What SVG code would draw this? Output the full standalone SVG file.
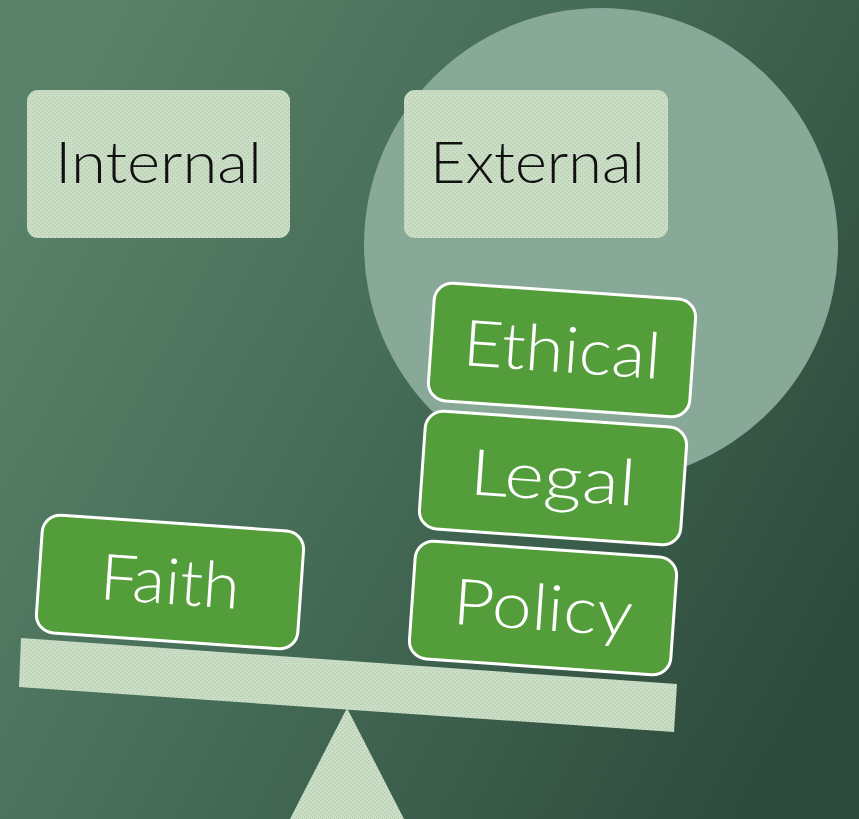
<svg xmlns="http://www.w3.org/2000/svg" width="859" height="819" viewBox="0 0 859 819">
<defs>
<linearGradient id="bg" x1="0" y1="0.25" x2="1" y2="0.75">
<stop offset="0" stop-color="#5a8269"/>
<stop offset="0.45" stop-color="#456c57"/>
<stop offset="1" stop-color="#2e4a3c"/>
</linearGradient>
<pattern id="dots" width="4" height="4" patternUnits="userSpaceOnUse">
<rect width="4" height="4" fill="#cadec6"/>
<rect x="0" y="0" width="1" height="1" fill="#abc4a8"/>
<rect x="2" y="2" width="1" height="1" fill="#abc4a8"/>
</pattern>
<style>
.light{fill:url(#dots);}
.green{fill:#539d3a;stroke:#ffffff;stroke-width:3;}
.lbl{font-family:Lato,"Liberation Sans",sans-serif;font-weight:300;font-size:58px;fill:#111;text-anchor:middle;}
.glbl{font-family:Lato,"Liberation Sans",sans-serif;font-weight:300;font-size:64px;fill:#ffffff;text-anchor:middle;}
</style>
</defs>
<rect width="859" height="819" fill="url(#bg)"/>
<circle id="circle" cx="601" cy="245" r="237" fill="#88a998"/>
<g id="internal">
<rect class="light" x="27" y="90" width="263" height="148" rx="11"/>
<text class="lbl" x="158.5" y="183" textLength="207" lengthAdjust="spacingAndGlyphs">Internal</text>
</g>
<g id="external">
<rect class="light" x="404" y="90" width="264" height="148" rx="11"/>
<text class="lbl" x="537.5" y="183" textLength="215" lengthAdjust="spacingAndGlyphs">External</text>
</g>
<g id="beam">
<polygon class="light" points="21,638 677,684 674,732 19,687"/>
</g>
<g id="fulcrum">
<polygon class="light" points="347,708 290,819 404,819"/>
</g>
<g id="faith" transform="translate(170,582) rotate(4)">
<rect class="green" x="-131" y="-59" width="262" height="118" rx="18"/>
<text class="glbl" x="0" y="22" textLength="140" lengthAdjust="spacingAndGlyphs">Faith</text>
</g>
<g id="policy" transform="translate(543,608) rotate(4)">
<rect class="green" x="-131" y="-59" width="262" height="118" rx="18"/>
<text class="glbl" x="0" y="22" textLength="180" lengthAdjust="spacingAndGlyphs">Policy</text>
</g>
<g id="legal" transform="translate(553,478) rotate(4)">
<rect class="green" x="-131" y="-59" width="262" height="118" rx="18"/>
<text class="glbl" x="0" y="22" textLength="166" lengthAdjust="spacingAndGlyphs">Legal</text>
</g>
<g id="ethical" transform="translate(562,350) rotate(4)">
<rect class="green" x="-131" y="-59" width="262" height="118" rx="18"/>
<text class="glbl" x="0" y="22" textLength="198" lengthAdjust="spacingAndGlyphs">Ethical</text>
</g>
</svg>
